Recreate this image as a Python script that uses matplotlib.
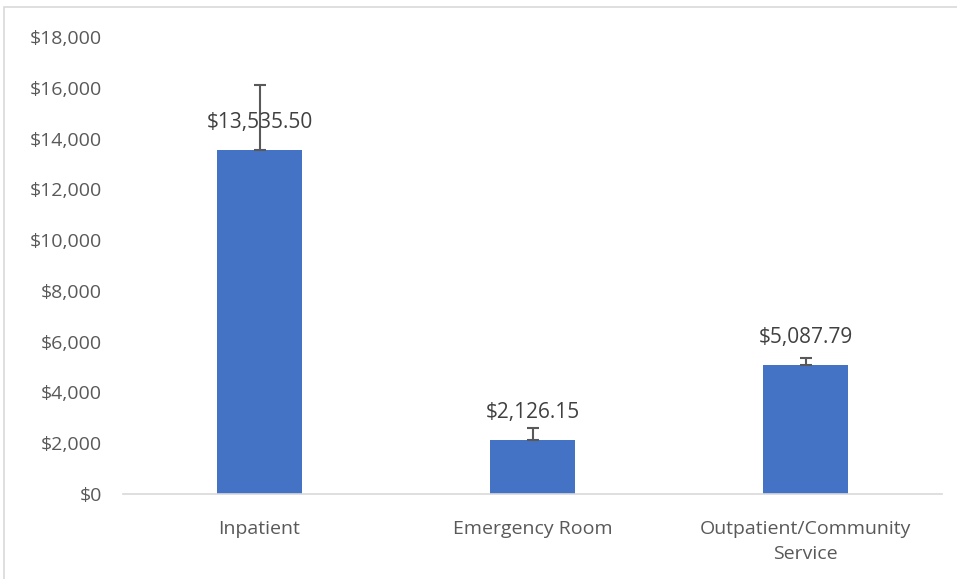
import matplotlib
matplotlib.use("Agg")
import matplotlib.pyplot as plt
from matplotlib.patches import Rectangle
from matplotlib.ticker import FuncFormatter

categories = ["Inpatient", "Emergency Room", "Outpatient/Community\nService"]
values = [13535.50, 2126.15, 5087.79]
errors_plus = [2570, 480, 270]
yticks = [0, 2000, 4000, 6000, 8000, 10000, 12000, 14000, 16000, 18000]

plt.rcParams['font.family'] = ['Open Sans', 'DejaVu Sans']

fig = plt.figure(figsize=(9.57, 5.79), dpi=100)
fig.patches.append(Rectangle((4/957, -0.1), 1.2, 1 - 7/579 + 0.1, transform=fig.transFigure,
                             fill=False, edgecolor="#d9d9d9", linewidth=1.2))
ax = fig.add_axes([123/957, 1 - 494/579, (942-123)/957, (494-37)/579])

x = list(range(len(categories)))
ax.bar(x, values, width=0.31, color="#4472c4", zorder=2)
ax.errorbar(x, values, yerr=[[0]*len(values), errors_plus], fmt='none',
            ecolor="#595959", elinewidth=1.5, capsize=4.5, capthick=1.5, zorder=3)
for xi, v in zip(x, values):
    ax.annotate(f"${v:,.2f}", (xi, v), xytext=(0, 20), textcoords="offset points",
                ha="center", va="center", fontsize=15, color="#404040", zorder=4)

ax.set_xlim(-0.5, 2.5)
ax.set_ylim(0, 18000)
ax.set_yticks(yticks)
ax.yaxis.set_major_formatter(FuncFormatter(lambda v, p: f"${v:,.0f}"))
ax.set_xticks(x)
ax.set_xticklabels(categories, linespacing=1.45)
ax.tick_params(axis="both", length=0, labelsize=14, colors="#595959")
ax.tick_params(axis="x", pad=19)
ax.tick_params(axis="y", pad=15)
for s in ["top", "right", "left"]:
    ax.spines[s].set_visible(False)
ax.spines["bottom"].set_color("#d9d9d9")
ax.spines["bottom"].set_linewidth(1.2)

fig.savefig("out.png", dpi=100)
